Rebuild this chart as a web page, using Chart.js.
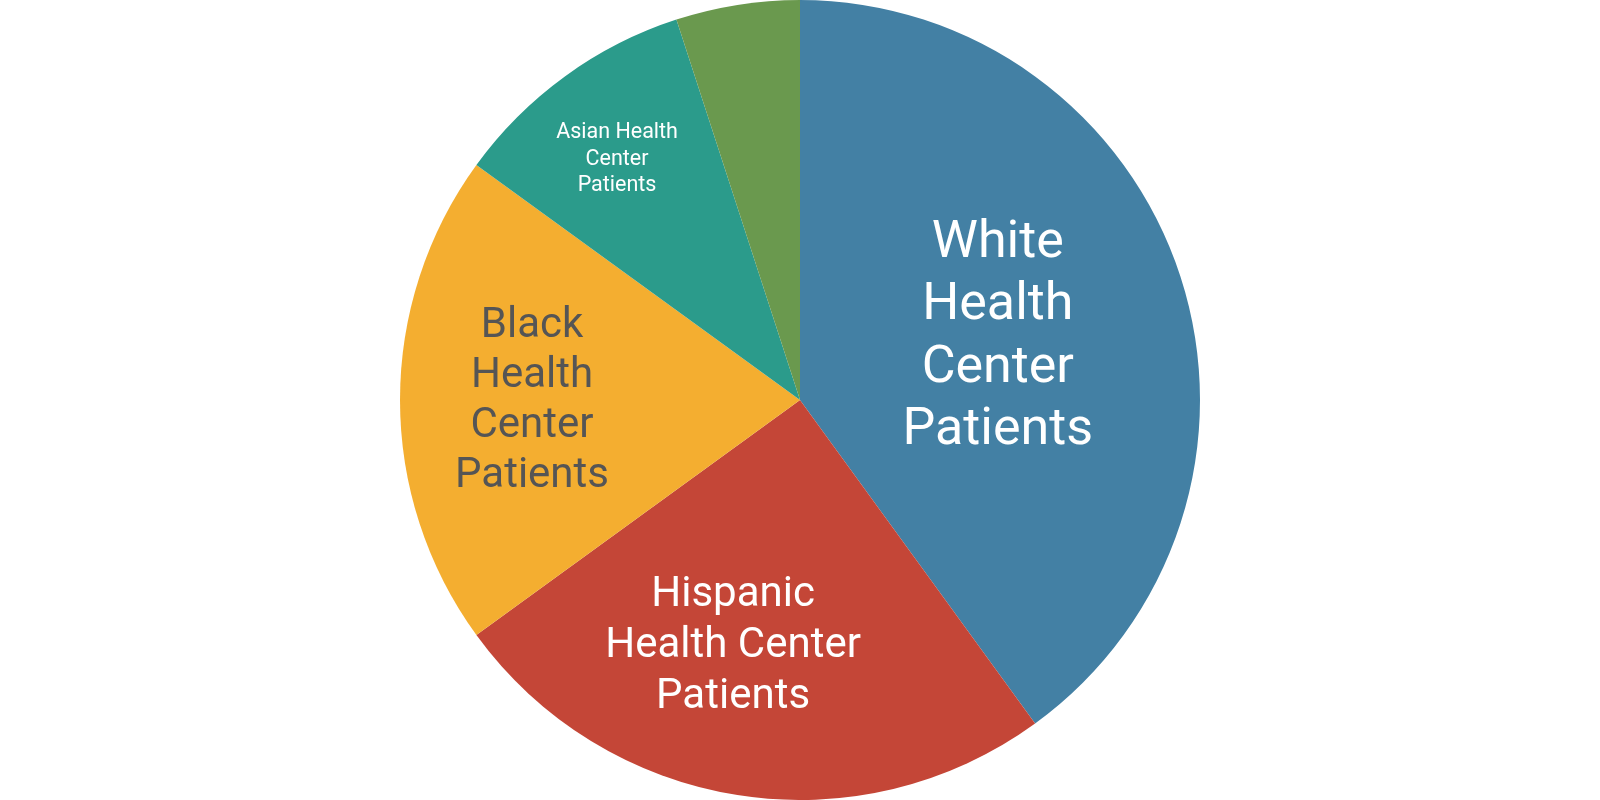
<!DOCTYPE html>
<html>
<head>
<meta charset="utf-8">
<script src="https://cdn.jsdelivr.net/npm/chart.js@4/dist/chart.umd.min.js"></script>
<style>
  html, body { margin: 0; padding: 0; background: #ffffff; }
  #wrap { width: 1600px; height: 800px; }
</style>
</head>
<body>
<div id="wrap"><canvas id="c" width="1600" height="800"></canvas></div>
<script>
const categories = ["White Health Center Patients", "Hispanic Health Center Patients", "Black Health Center Patients", "Asian Health Center Patients", "Other Health Center Patients"];
const shares = [40, 25, 20, 10, 5];
const labelLines = [
  ["White", "Health", "Center", "Patients"],
  ["Hispanic", "Health Center", "Patients"],
  ["Black", "Health", "Center", "Patients"],
  ["Asian Health", "Center", "Patients"],
  []
];
const sliceColors = ["#4380a4", "#c44637", "#f4ae30", "#2b9b8b", "#6a994e"];

const labelStyle = [
  { size: 52, lh: 62.5, color: "#ffffff", r: 0.52, da: 0, dy: 2 },
  { size: 42, lh: 51, color: "#ffffff", r: 0.63, da: 6.4, dy: 4 },
  { size: 42, lh: 50, color: "#555555", r: 0.67, da: 0, dy: 1 },
  { size: 21.5, lh: 26.5, color: "#ffffff", r: 0.76, da: -1, dy: 2 },
  { size: 20, lh: 26, color: "#ffffff", r: 0.6, da: 0, dy: 0 }
];

const sliceLabelPlugin = {
  id: "sliceLabels",
  afterDatasetsDraw(chart) {
    const ctx = chart.ctx;
    const meta = chart.getDatasetMeta(0);
    meta.data.forEach((arc, i) => {
      const lines = labelLines[i];
      if (!lines || !lines.length) return;
      const st = labelStyle[i];
      const p = arc.getProps(["x", "y", "startAngle", "endAngle", "outerRadius"], true);
      const mid = (p.startAngle + p.endAngle) / 2 + st.da * Math.PI / 180;
      const rr = p.outerRadius * st.r;
      const cx = p.x + Math.cos(mid) * rr;
      const cy = p.y + Math.sin(mid) * rr + st.dy;
      ctx.save();
      ctx.font = st.size + "px Roboto";
      ctx.fillStyle = st.color;
      ctx.textAlign = "center";
      ctx.textBaseline = "middle";
      const n = lines.length;
      lines.forEach((t, k) => {
        ctx.fillText(t, cx, cy + (k - (n - 1) / 2) * st.lh);
      });
      ctx.restore();
    });
  }
};

new Chart(document.getElementById("c"), {
  type: "pie",
  data: {
    labels: categories,
    datasets: [{
      data: shares,
      backgroundColor: sliceColors,
      borderWidth: 0
    }]
  },
  options: {
    responsive: false,
    animation: false,
    layout: { padding: 0 },
    plugins: {
      legend: { display: false },
      tooltip: { enabled: false }
    }
  },
  plugins: [sliceLabelPlugin]
});
</script>
</body>
</html>
